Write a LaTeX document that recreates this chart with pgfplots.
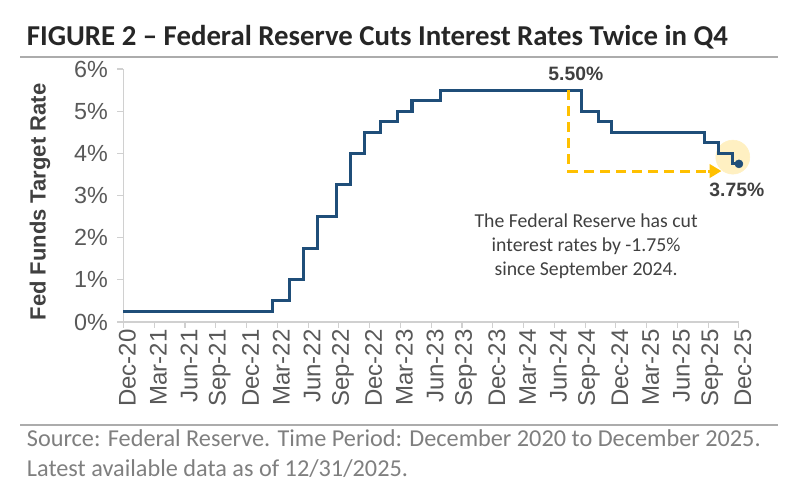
\documentclass[border=0pt]{standalone}
\usepackage{fontspec}
\setmainfont{Liberation Sans}
\newfontfamily\carlito{Carlito}
\usepackage{pgfplots}
\pgfplotsset{compat=1.18}
\usetikzlibrary{arrows.meta}
\definecolor{fednavy}{HTML}{1F4E79}
\definecolor{annoyellow}{HTML}{FFC000}
\definecolor{paleyellow}{HTML}{FFF0C2}
\definecolor{axisgray}{HTML}{D0D0D0}
\definecolor{ticktext}{HTML}{595959}
\definecolor{darktext}{HTML}{404040}
\definecolor{srcgray}{HTML}{7F7F7F}
\pgfplotsset{fedbox/.style={at={(92.6pt,135.75pt)}, anchor=south west,
  scale only axis, width=461.6pt, height=189.75pt,
  xmin=0, xmax=60, ymin=0, ymax=6, clip=false}}
\begin{document}
\begin{tikzpicture}
% page = 800 x 503 px, 1 px = 0.75 pt
\path[use as bounding box] (0,0) rectangle (600pt,377.25pt);
\node[anchor=base west, inner sep=0pt, text=black!85] at (20pt,342.75pt)
  {\carlito\bfseries\fontsize{21.6}{24}\selectfont FIGURE 2 – Federal Reserve Cuts Interest Rates Twice in Q4};
\draw[gray!65, line width=1.6pt] (15pt,334.5pt) -- (583.5pt,334.5pt);
\draw[gray!65, line width=1.6pt] (15pt,58.5pt) -- (583.5pt,58.5pt);
\node[anchor=base west, inner sep=0pt, text=srcgray] at (20pt,42pt)
  {\carlito\fontsize{18.2}{20}\selectfont Source: Federal Reserve. Time Period: December 2020 to December 2025.};
\node[anchor=base west, inner sep=0pt, text=srcgray] at (20pt,19.5pt)
  {\carlito\fontsize{18.2}{20}\selectfont Latest available data as of 12/31/2025.};
% highlight behind the last value, in a hidden axis underneath
\begin{axis}[fedbox, hide axis]
\addplot[only marks, mark=*, mark size=12.75pt, mark options={draw=paleyellow, fill=paleyellow}]
  coordinates {(59.4,3.91)};
\end{axis}
\begin{axis}[
  fedbox,
  axis lines=left, axis line style={-, axisgray, line width=0.8pt},
  xtick={0,3,...,60},
  xticklabels={Dec-20,Mar-21,Jun-21,Sep-21,Dec-21,Mar-22,Jun-22,Sep-22,Dec-22,Mar-23,Jun-23,Sep-23,Dec-23,Mar-24,Jun-24,Sep-24,Dec-24,Mar-25,Jun-25,Sep-25,Dec-25},
  ytick={0,1,...,6},
  yticklabels={0\%,1\%,2\%,3\%,4\%,5\%,6\%},
  tick align=outside, major tick length=4.5pt,
  tick style={axisgray, line width=0.8pt},
  x tick label style={rotate=90, anchor=east, font=\fontsize{18}{20}\selectfont, text=ticktext, inner sep=1pt, yshift=-3pt},
  y tick label style={font=\fontsize{17.5}{20}\selectfont, text=ticktext, inner sep=1pt, xshift=-6pt},
  ylabel={Fed Funds Target Rate},
  ylabel style={at={(axis description cs:-0.1357,0.474)}, rotate=0, anchor=center,
    font=\bfseries\fontsize{16.5}{18}\selectfont, text=darktext},
]
% upper bound of the target range; step dates as months after Dec-20
\addplot[const plot, fednavy, line width=2.3pt] coordinates {
  (0,0.25) (14.55,0.50) (16.16,1.00) (17.53,1.75) (18.90,2.50)
  (20.73,3.25) (22.10,4.00) (23.48,4.50) (25.07,4.75) (26.74,5.00)
  (28.13,5.25) (30.87,5.50) (44.63,5.00) (46.27,4.75) (47.61,4.50)
  (56.60,4.25) (57.97,4.00) (59.35,3.75) (60,3.75)
};
\addplot[only marks, mark=*, mark size=3pt, fednavy] coordinates {(60,3.75)};
\draw[annoyellow, line width=2.3pt, dash pattern=on 7.5pt off 4.5pt]
  (axis cs:43.43,5.5) -- (axis cs:43.43,3.58) -- (axis cs:57.2,3.58);
\draw[annoyellow, line width=2.3pt, -{Triangle[length=9pt, width=10pt]}]
  (axis cs:57.0,3.58) -- (axis cs:58.3,3.58);
\node[font=\bfseries\fontsize{14.5}{16}\selectfont, text=darktext] at (axis cs:44.1,5.88) {5.50\%};
\node[font=\bfseries\fontsize{14.5}{16}\selectfont, text=darktext] at (axis cs:59.8,3.13) {3.75\%};
\node[align=center, text=darktext, font=\carlito\fontsize{14.8}{18}\selectfont] at (axis cs:45.1,1.80)
  {The Federal Reserve has cut\\interest rates by -1.75\%\\since September 2024.};
\end{axis}
\end{tikzpicture}
\end{document}
